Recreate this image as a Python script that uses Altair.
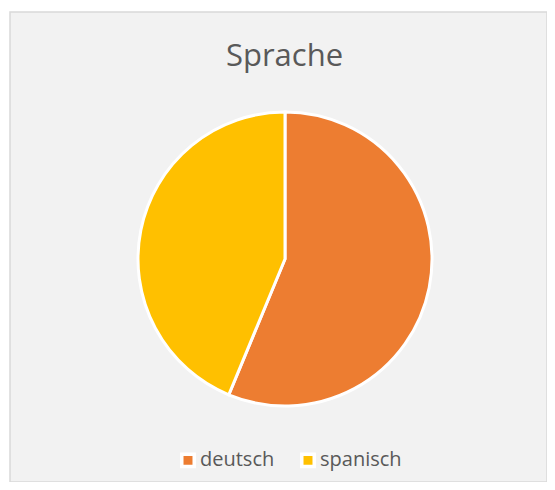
import altair as alt
import pandas as pd

languages = ["deutsch", "spanisch"]
counts = [9, 7]
colors = ["#ED7D31", "#FFC000"]

df = pd.DataFrame({"Sprache": languages, "Anzahl": counts})

pie = alt.Chart(df).mark_arc(radius=147, stroke="white", strokeWidth=3).encode(
    theta=alt.Theta("Anzahl:Q", stack=True),
    color=alt.Color(
        "Sprache:N",
        sort=languages,
        scale=alt.Scale(domain=languages, range=colors),
        legend=alt.Legend(
            title=None,
            orient="none",
            direction="horizontal",
            legendX=168,
            legendY=438,
            symbolType="square",
            symbolSize=156,
            symbolStrokeColor="white",
            symbolStrokeWidth=3.5,
            symbolOpacity=1,
            labelFont="Open Sans",
            labelFontSize=20,
            labelColor="#595959",
            labelOffset=2,
            columnPadding=19,
        ),
    ),
    order=alt.Order("Sprache:N", sort="ascending"),
    x=alt.value(275),
    y=alt.value(247),
)

chart = pie.properties(
    width=537,
    height=470,
    padding={"left": 2, "top": 4, "right": 0, "bottom": 0},
    autosize=alt.AutoSizeParams(type="none"),
    background="white",
    title=alt.TitleParams(
        "Sprache",
        font="Open Sans",
        fontSize=31,
        fontWeight="normal",
        color="#595959",
        anchor="middle",
        offset=-61,
        dx=6,
    ),
).configure_view(fill="#F2F2F2", stroke="#D9D9D9", strokeWidth=1.5)

chart.save("out.html", embed_options={"renderer": "svg", "actions": False})
